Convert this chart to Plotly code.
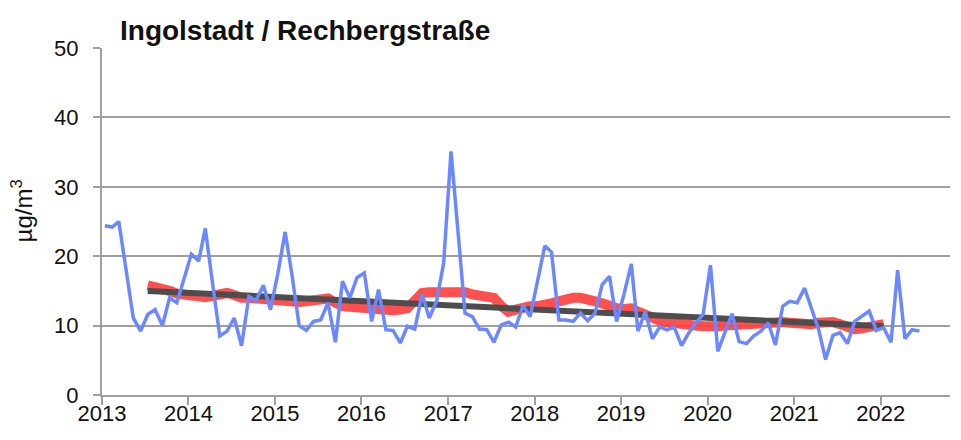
import pandas as pd
import plotly.graph_objects as go

# ---- data ----
start_month = "2013-01-01"
n_months = 114  # Jan 2013 .. Jun 2022

monthly_values = [
    24.4, 24.2, 25.0, 17.5, 11.1, 9.2, 11.6, 12.3, 10.0, 14.0, 13.3, 16.7,   # 2013
    20.3, 19.3, 24.0, 16.0, 8.5, 9.2, 11.1, 7.1, 14.2, 13.6, 15.8, 12.3,     # 2014
    17.5, 23.5, 17.5, 10.0, 9.3, 10.6, 10.8, 13.3, 7.6, 16.4, 14.0, 16.9,    # 2015
    17.6, 10.6, 15.2, 9.4, 9.3, 7.5, 9.9, 9.5, 14.5, 11.1, 13.5, 19.0,       # 2016
    35.1, 23.0, 11.8, 11.3, 9.5, 9.4, 7.6, 10.1, 10.5, 9.8, 12.9, 11.3,      # 2017
    16.4, 21.5, 20.6, 10.8, 10.8, 10.6, 11.8, 10.7, 11.8, 15.9, 17.1, 10.6,  # 2018
    14.5, 18.9, 9.2, 12.0, 8.1, 9.8, 9.4, 9.8, 7.1, 8.9, 10.4, 11.6,         # 2019
    18.7, 6.3, 8.9, 11.7, 7.7, 7.4, 8.5, 9.2, 10.4, 7.2, 12.8, 13.5,         # 2020
    13.3, 15.4, 12.6, 9.5, 5.1, 8.6, 9.0, 7.4, 10.6, 11.3, 12.1, 9.3,        # 2021
    9.7, 7.6, 18.0, 8.1, 9.4, 9.2,                                           # 2022
]

# running mean (thick red), Jul 2013 .. Jan 2022
running_first_index = 6
running_values = [
    15.8, 15.6, 15.3, 15.0, 14.6, 14.4,
    14.3, 14.2, 14.1, 14.3, 14.5, 14.7, 14.4, 14.0, 14.0, 13.9, 13.6, 13.5,
    13.4, 13.4, 13.4, 13.4, 13.5, 13.6, 13.8, 13.9, 13.3, 12.8, 12.7, 12.6,
    12.6, 12.3, 12.1, 12.1, 12.2, 12.3, 12.5, 13.6, 14.7, 14.8, 14.8, 14.8,
    14.9, 14.9, 14.8, 14.5, 14.4, 14.3, 14.0, 12.8, 12.0, 12.3, 12.6, 12.8,
    12.8, 12.9, 13.2, 13.5, 13.8, 14.0, 14.0, 13.9, 13.5, 13.2, 12.8, 12.5,
    12.4, 12.5, 12.0, 11.5, 11.0, 10.7, 10.5, 10.3, 10.1, 10.0, 10.0, 9.9,
    9.8, 9.9, 10.0, 10.1, 10.1, 10.2, 10.3, 10.4, 10.6, 10.6, 10.5, 10.4,
    10.3, 10.3, 10.2, 10.4, 10.6, 10.5, 10.2, 9.9, 9.5, 9.6, 9.8, 10.0,
    10.2,
]

# linear trend end points (dark grey)
trend_values = [15.0, 9.9]

year_ticks = list(range(2013, 2023))
year_labels = [str(y) for y in year_ticks]
y_ticks = [0, 10, 20, 30, 40, 50]

title_text = "Ingolstadt / Rechbergstraße"
unit_text = "µg/m<sup>3</sup>"

# ---- build ----
months = pd.date_range(start_month, periods=n_months, freq="MS") + pd.Timedelta(days=12)
run_x = months[running_first_index:running_first_index + len(running_values)]
trend_x = [run_x[0], run_x[-1]]

BLUE = "#6b88ff"
RED = "rgba(255,60,60,0.9)"
GREY = "#4d4d4d"
GRID = "#a0a0a0"
FONT = "Liberation Sans, Arial, sans-serif"

fig = go.Figure()
fig.add_trace(go.Scatter(x=run_x, y=running_values, mode="lines",
                         line=dict(color=RED, width=10), hoverinfo="skip"))
fig.add_trace(go.Scatter(x=trend_x, y=trend_values, mode="lines",
                         line=dict(color=GREY, width=6), hoverinfo="skip"))
fig.add_trace(go.Scatter(x=months, y=monthly_values, mode="lines",
                         line=dict(color=BLUE, width=3.5)))

fig.update_layout(
    width=961, height=440,
    margin=dict(l=102, r=11, t=48, b=45, autoexpand=False),
    paper_bgcolor="white", plot_bgcolor="white",
    showlegend=False,
    font=dict(family=FONT, color="#111111", size=22),
    title=dict(text="<b>" + title_text + "</b>", x=120 / 961, xanchor="left",
               xref="container", y=1 - 30 / 440, yanchor="middle",
               font=dict(family=FONT, size=28, color="#111111"),
               automargin=False),
)
fig.update_xaxes(
    type="date", automargin=False,
    range=["2013-01-01", "2022-10-20"],
    tickvals=[pd.Timestamp(f"{y}-01-01") for y in year_ticks],
    ticktext=year_labels,
    showgrid=False, zeroline=False,
    showline=True, linecolor=GRID, linewidth=2,
    ticks="outside", ticklen=8, tickwidth=2, tickcolor=GRID,
    tickfont=dict(size=22),
    ticklabelstandoff=-10,
)
fig.update_yaxes(
    range=[0, 50], tickvals=y_ticks, automargin=False,
    showgrid=True, gridcolor=GRID, gridwidth=2,
    zeroline=False,
    showline=True, linecolor=GRID, linewidth=2,
    ticks="outside", ticklen=7, tickwidth=2, tickcolor=GRID,
    tickfont=dict(size=22),
    ticklabelstandoff=10,
)
fig.add_annotation(text=unit_text, xref="paper", yref="paper",
                   x=-0.094, y=0.53, textangle=-90, showarrow=False,
                   font=dict(size=24, family=FONT, color="#111111"),
                   xanchor="center", yanchor="middle")

fig.write_html("out.html",
               config={"displayModeBar": False},
               post_script="document.body.style.margin='0';document.body.style.overflow='hidden';")
